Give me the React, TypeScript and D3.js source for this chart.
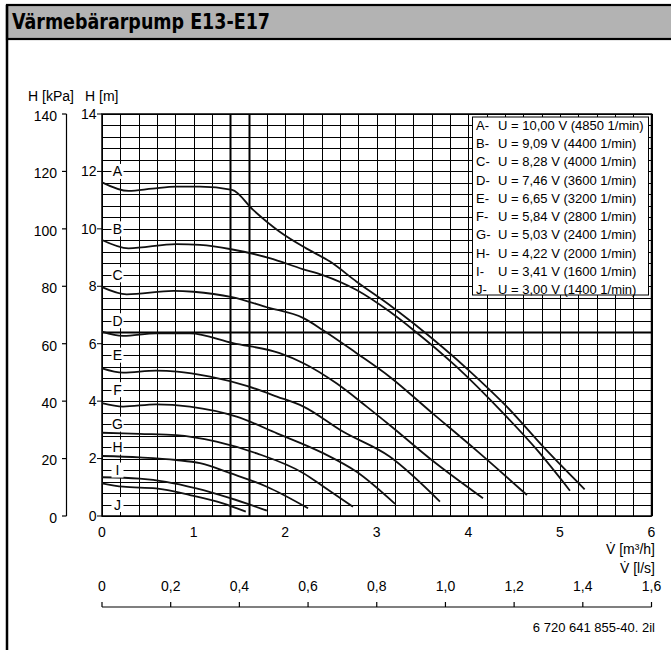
import * as d3 from 'd3'
import React from 'react'

// pump curves, flow in m³/h and head in m
const curveA: [number, number][] = [[0, 11.62], [0.29, 11.32], [0.55, 11.4], [0.81, 11.47], [1.07, 11.47], [1.42, 11.36], [1.65, 10.66], [1.94, 9.9], [2.23, 9.32], [2.49, 8.86], [2.78, 8.16], [3.14, 7.35], [3.4, 6.71], [4.02, 5.03], [4.42, 3.81], [4.85, 2.3], [5.27, 0.93]]
const curveB: [number, number][] = [[0, 9.61], [0.29, 9.32], [0.81, 9.47], [1.07, 9.44], [1.41, 9.29], [1.83, 8.98], [2.19, 8.6], [2.41, 8.39], [2.78, 7.87], [3.14, 7.12], [3.4, 6.48], [3.87, 5.2], [4.38, 3.58], [4.75, 2.3], [5.11, 0.88]]
const curveC: [number, number][] = [[0, 7.97], [0.27, 7.72], [0.78, 7.84], [1.0, 7.81], [1.42, 7.62], [1.8, 7.27], [2.2, 6.89], [2.41, 6.48], [2.78, 5.67], [3.14, 4.85], [3.6, 3.6], [4.1, 2.25], [4.64, 0.73]]
const curveD: [number, number][] = [[0, 6.42], [0.23, 6.27], [0.59, 6.36], [0.96, 6.36], [1.43, 6.02], [1.94, 5.67], [2.2, 5.32], [2.56, 4.62], [2.89, 3.81], [3.14, 3.17], [3.6, 1.95], [4.16, 0.62]]
const curveE: [number, number][] = [[0, 5.14], [0.23, 4.99], [0.59, 5.06], [0.82, 5.03], [1.18, 4.85], [1.58, 4.53], [1.91, 4.16], [2.2, 3.81], [2.63, 2.94], [3.14, 2.07], [3.69, 0.5]]
const curveF: [number, number][] = [[0, 3.93], [0.23, 3.81], [0.59, 3.89], [0.96, 3.81], [1.47, 3.46], [1.91, 2.88], [2.42, 2.18], [2.78, 1.54], [3.2, 0.42]]
const curveG: [number, number][] = [[0, 2.9], [0.41, 2.86], [0.81, 2.82], [1.25, 2.59], [1.69, 2.18], [2.2, 1.49], [2.42, 1.02], [2.74, 0.32]]
const curveH: [number, number][] = [[0, 2.09], [0.41, 2.04], [0.81, 1.95], [1.07, 1.84], [1.4, 1.49], [1.8, 1.02], [2.25, 0.27]]
const curveI: [number, number][] = [[0, 1.35], [0.41, 1.3], [0.7, 1.19], [1.03, 0.96], [1.4, 0.62], [1.8, 0.19]]
const curveJ: [number, number][] = [[0, 1.14], [0.23, 1.02], [0.59, 0.96], [0.96, 0.73], [1.32, 0.44], [1.57, 0.15]]

const curves = [curveA, curveB, curveC, curveD, curveE, curveF, curveG, curveH, curveI, curveJ]
const curveNames = ['A', 'B', 'C', 'D', 'E', 'F', 'G', 'H', 'I', 'J']
// head (m) of the grid line each curve letter sits on
const labelLevels = [12, 10, 8.4, 6.8, 5.6, 4.4, 3.2, 2.4, 1.6, 0.4]

const legendVoltage = ['10,00', '9,09', '8,28', '7,46', '6,65', '5,84', '5,03', '4,22', '3,41', '3,00']
const legendRpm = ['4850', '4400', '4000', '3600', '3200', '2800', '2400', '2000', '1600', '1400']

const headTicksM = [0, 2, 4, 6, 8, 10, 12, 14]
const headTicksKPa = [0, 20, 40, 60, 80, 100, 120, 140]
const flowTicks = [0, 1, 2, 3, 4, 5, 6]
const flowLsTicks = [0, 0.2, 0.4, 0.6, 0.8, 1.0, 1.2, 1.4, 1.6]

const FONT = '"Liberation Sans", Arial, sans-serif'

export default function App() {
  const x = d3.scaleLinear().domain([0, 6]).range([102, 651.5])
  const y = d3.scaleLinear().domain([0, 14]).range([516, 114])
  const yKPa = d3.scaleLinear().domain([0, 140]).range([516, 114])
  const xLs = d3.scaleLinear().domain([0, 1.6]).range([102, 651.5])

  const line = d3.line<[number, number]>()
    .x(d => x(d[0]))
    .y(d => y(d[1]))
    .curve(d3.curveMonotoneX)

  const vGrid = d3.range(0, 30.5).map(i => i * 0.2)
  const hGrid = d3.range(0, 35.5).map(i => i * 0.4)
  const heavy = (a: number, b: number) => Math.abs(a - b) < 0.01

  const legX0 = 472.5, legX1 = 648.5, legY0 = 117, legY1 = 295
  const lx = (v: number) => v.toFixed(1).replace('.', ',')

  return (
    <svg width={671} height={650} style={{ position: 'absolute', left: 0, top: 0, background: '#fff' }}
      fontFamily={FONT}>
      {/* frame and title bar */}
      <rect x={7} y={5} width={670} height={34} fill="#b3b3b3" stroke="#000" strokeWidth={2.2} />
      <line x1={7} x2={7} y1={5} y2={650} stroke="#000" strokeWidth={2.5} />
      <text x={12} y={29} fontFamily='"DejaVu Sans Condensed", "DejaVu Sans", sans-serif' fontWeight="bold"
        fontSize={20.5} fontStretch="condensed" fill="#000" textLength={258} lengthAdjust="spacingAndGlyphs">Värmebärarpump E13-E17</text>

      {/* grid */}
      <g stroke="#000">
        {vGrid.map((v, i) => (
          <line key={'v' + i} x1={Math.round(x(v)) + 0.5} x2={Math.round(x(v)) + 0.5} y1={y(14)} y2={y(0)}
            strokeWidth={heavy(v, 1.4) || heavy(v, 1.6) ? 2 : 1} />
        ))}
        {hGrid.map((h, i) => (
          <line key={'h' + i} x1={x(0)} x2={x(6)} y1={Math.round(y(h)) + 0.5} y2={Math.round(y(h)) + 0.5}
            strokeWidth={heavy(h, 6.4) ? 2 : 1} />
        ))}
        <rect x={x(0)} y={y(14)} width={x(6) - x(0)} height={y(0) - y(14)} fill="none" strokeWidth={1.5} />
      </g>

      {/* m axis ticks and labels */}
      {headTicksM.map(t => (
        <g key={'m' + t}>
          <line x1={97} x2={102} y1={y(t)} y2={y(t)} stroke="#000" />
          <text x={96.5} y={y(t)} dy="0.35em" textAnchor="end" fontSize={14}>{t}</text>
        </g>
      ))}
      {/* kPa axis */}
      <line x1={66.5} x2={66.5} y1={yKPa(140)} y2={yKPa(0)} stroke="#000" strokeWidth={1.2} />
      {headTicksKPa.map(t => (
        <g key={'k' + t}>
          <line x1={62} x2={66.5} y1={yKPa(t)} y2={yKPa(t)} stroke="#000" strokeWidth={1.2} />
          <text x={57} y={yKPa(t) + 2} dy="0.35em" textAnchor="end" fontSize={14}>{t}</text>
        </g>
      ))}
      <text x={28} y={101} fontSize={14}>H [kPa]</text>
      <text x={85} y={101} fontSize={14}>H [m]</text>

      {/* curves */}
      <g fill="none" stroke="#111" strokeWidth={1.8}>
        {curves.map((c, i) => <path key={'c' + i} d={line(c) || ''} />)}
      </g>

      {/* curve letters */}
      {curveNames.map((n, i) => (
        <g key={'l' + n}>
          <rect x={111.5} y={y(labelLevels[i]) - 7.5} width={12} height={15} fill="#fff" />
          <text x={117.5} y={y(labelLevels[i])} dy="0.36em" textAnchor="middle" fontSize={14}>{n}</text>
        </g>
      ))}

      {/* legend */}
      <rect x={legX0} y={legY0} width={legX1 - legX0} height={legY1 - legY0} fill="#fff" stroke="#000" strokeWidth={1} />
      {curveNames.map((n, i) => (
        <g key={'g' + n} fontSize={13}>
          <text x={476} y={125 + i * 18.3} dy="0.36em">{n}-</text>
          <text x={498} y={125 + i * 18.3} dy="0.36em">U = {legendVoltage[i]} V ({legendRpm[i]} 1/min)</text>
        </g>
      ))}

      {/* flow axis m³/h */}
      {flowTicks.map(t => (
        <text key={'f' + t} x={x(t)} y={532} dy="0.35em" textAnchor="middle" fontSize={14}>{t}</text>
      ))}
      <text x={655} y={549} dy="0.35em" textAnchor="end" fontSize={14}>V̇ [m³/h]</text>
      <text x={655} y={568} dy="0.35em" textAnchor="end" fontSize={14}>V̇ [l/s]</text>

      {/* flow axis l/s */}
      {flowLsTicks.map(t => (
        <g key={'s' + t}>
          <text x={xLs(t)} y={586} dy="0.35em" textAnchor="middle" fontSize={14}>{t === 0 ? '0' : lx(t)}</text>
          <line x1={xLs(t)} x2={xLs(t)} y1={602} y2={607} stroke="#000" strokeWidth={1.2} />
        </g>
      ))}
      <line x1={xLs(0)} x2={xLs(1.6)} y1={607} y2={607} stroke="#000" strokeWidth={1.2} />
      <text x={655} y={627} dy="0.35em" textAnchor="end" fontSize={13}>6 720 641 855-40. 2il</text>
    </svg>
  )
}
